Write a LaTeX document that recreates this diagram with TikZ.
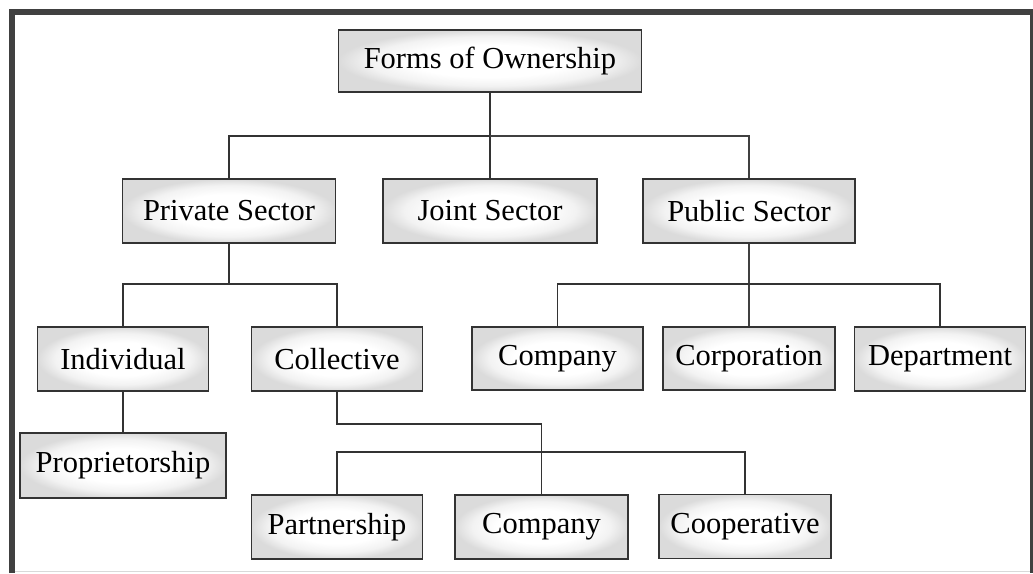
\documentclass[tikz,border=0pt]{standalone}
\usepackage{fontspec}
\setmainfont{Liberation Serif}
% soft white-to-grey fill for the boxes
\pgfdeclareradialshading{boxglow}{\pgfpoint{0bp}{0bp}}{%
  color(0bp)=(white); color(13bp)=(white); color(20bp)=(black!5);
  color(25bp)=(black!14); color(50bp)=(black!14)}
\begin{document}
\begin{tikzpicture}[x=1pt,y=-1pt,
  box/.style={draw=black!80, line width=1.8pt, shading=boxglow,
    minimum height=64pt, inner sep=0pt, text=black,
    font=\fontsize{30.5}{36}\selectfont},
  link/.style={draw=black!80, line width=1.8pt},
  thinlink/.style={draw=black!75, line width=1.4pt},
  frame/.style={draw=black!75, line width=6pt}]
\useasboundingbox (0,0) rectangle (1033,573);
\fill[white] (0,0) rectangle (1033,573);

% outer frame
\draw[frame] (12,573) -- (12,12) -- (1033,12);
\draw[draw=black!75, line width=2.5pt] (1031.5,12) -- (1031.5,573);
\draw[draw=black!15, line width=1.2pt] (15,571.5) -- (1030,571.5);

% boxes
\node[box, minimum width=303pt, minimum height=62pt] (forms) at (490,61) {Forms of Ownership};
\node[box, minimum width=213pt] (private) at (229,211) {Private Sector};
\node[box, minimum width=214pt] (joint) at (490,211) {Joint Sector};
\node[box, minimum width=212pt] (public) at (749,211) {Public Sector};
\node[box, minimum width=171pt] (indiv) at (123,359) {Individual};
\node[box, minimum width=171pt] (collective) at (337,359) {Collective};
\node[box, minimum width=206pt, minimum height=65pt] (propr) at (123,465.5) {Proprietorship};
\node[box, minimum width=171pt, minimum height=63pt] (pcompany) at (557.5,358.5) {Company};
\node[box, minimum width=172pt, minimum height=63pt] (corp) at (749,358.5) {Corporation};
\node[box, minimum width=171pt] (dept) at (940,359) {Department};
\node[box, minimum width=171pt] (partner) at (337,527) {Partnership};
\node[box, minimum width=173pt] (ccompany) at (541.5,527) {Company};
\node[box, minimum width=172pt] (coop) at (745,526.5) {Cooperative};

% junction points
\coordinate (topbus) at (490,136);
\coordinate (privbus) at (229,284);
\coordinate (pubbus) at (749,284);
\coordinate (collbus2) at (541.5,424);
\coordinate (coopbus) at (541,452);

% connectors
\draw[link] (forms.south) -- (joint.north);
\draw[link] (topbus) -| (private.north);
\draw[thinlink] (topbus) -| (public.north);
\draw[link] (private.south) -- (privbus);
\draw[link] (indiv.north) |- (privbus) -| (collective.north);
\draw[link] (indiv.south) -- (propr.north);
\draw[link] (collective.south) |- (collbus2) -- (ccompany.north);
\draw[link] (partner.north) |- (coopbus) -| (coop.north);
\draw[thinlink] (public.south) -- (corp.north);
\draw[link] (pcompany.north) |- (pubbus) -| (dept.north);
\end{tikzpicture}
\end{document}
